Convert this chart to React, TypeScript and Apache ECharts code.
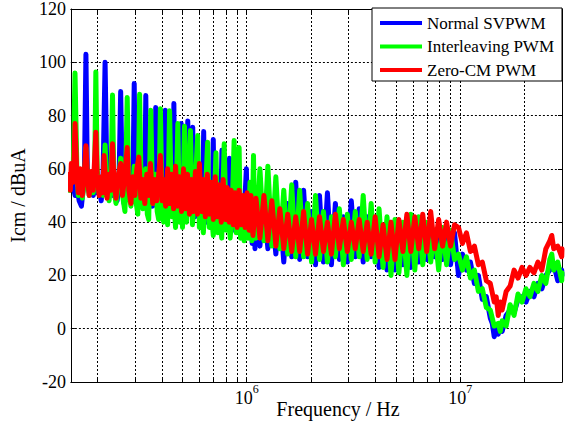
import React, { useEffect, useRef } from 'react';
import * as echarts from 'echarts';

const FONT = 'Liberation Serif, serif';

const seriesNames = ['Normal SVPWM', 'Interleaving PWM', 'Zero-CM PWM'];
const seriesColors = ['#0000ff', '#00ff00', '#ff0000'];
const xGridMHz = [0.2, 0.3, 0.4, 0.5, 0.6, 0.7, 0.8, 0.9, 1, 2, 3, 4, 5, 6, 7, 8, 9, 10, 20];
const xLabelMHz = [1, 10];
const yMin = -20;
const yMax = 120;
const yStep = 20;
const xTitle = 'Frequency / Hz';
const yTitle = 'Icm / dBuA';

// [frequency in MHz, level in dBuA]
const normalSVPWM: [number, number][] = [
  [0.1475, 55], [0.151, 58], [0.154, 53], [0.157, 50], [0.161, 52], [0.164, 48], [0.168, 46], [0.171, 52], [0.1735, 58],
  [0.1764, 103], [0.179, 60], [0.183, 52], [0.187, 57], [0.191, 50], [0.195, 55], [0.199, 51], [0.203, 54], [0.208, 48],
  [0.212, 56], [0.2169, 100], [0.221, 58], [0.226, 50], [0.231, 55], [0.236, 50], [0.241, 56], [0.247, 48], [0.252, 55],
  [0.2566, 89], [0.261, 55], [0.266, 47], [0.272, 53], [0.278, 49], [0.284, 55], [0.29, 48], [0.293, 56], [0.297, 92],
  [0.301, 53], [0.306, 47], [0.312, 52], [0.319, 46], [0.326, 51], [0.332, 49], [0.3365, 87.5], [0.341, 50], [0.347, 45],
  [0.355, 49], [0.362, 46], [0.37, 52], [0.3745, 83], [0.379, 50], [0.386, 44], [0.395, 48], [0.404, 45], [0.412, 50],
  [0.4155, 82], [0.42, 49], [0.426, 44], [0.435, 48], [0.445, 46], [0.452, 52], [0.4556, 84.5], [0.46, 50], [0.466, 44],
  [0.474, 47], [0.484, 43], [0.49, 48], [0.4932, 77], [0.497, 49], [0.505, 45], [0.514, 48], [0.522, 45], [0.5293, 78],
  [0.536, 46], [0.545, 44], [0.552, 50], [0.5584, 75.6], [0.564, 45], [0.572, 42], [0.581, 47], [0.589, 43], [0.6, 47],
  [0.61, 42], [0.62, 46], [0.6284, 74], [0.636, 44], [0.647, 40], [0.66, 45], [0.67, 41], [0.682, 46], [0.69, 50],
  [0.697, 71], [0.704, 46], [0.712, 40], [0.725, 44], [0.735, 39], [0.745, 45], [0.758, 50], [0.765, 67], [0.772, 44],
  [0.784, 39], [0.8, 43], [0.815, 38], [0.823, 48], [0.83, 64], [0.838, 44], [0.85, 38], [0.865, 42], [0.88, 37],
  [0.895, 45], [0.91, 38], [0.93, 43], [0.95, 37], [0.97, 44], [0.985, 52], [0.996, 60], [1.005, 45], [1.02, 36],
  [1.04, 51], [1.06, 32], [1.08, 48], [1.093, 30],
  [1.105, 46], [1.153, 31], [1.204, 48], [1.256, 30], [1.311, 44], [1.369, 28], [1.429, 45], [1.491, 25], [1.556, 47],
  [1.624, 27], [1.696, 55], [1.77, 26], [1.847, 52], [1.928, 27], [2.012, 44], [2.1, 24], [2.192, 50], [2.288, 25],
  [2.388, 51], [2.493, 24], [2.602, 47], [2.716, 26], [2.836, 42], [2.96, 25], [3.09, 48], [3.225, 27], [3.365, 45],
  [3.513, 25], [3.667, 42], [3.827, 27], [3.995, 40], [4.169, 23], [4.351, 38], [4.542, 22], [4.741, 40], [4.949, 22],
  [5.164, 38], [5.391, 24], [5.627, 39], [5.873, 23], [6.13, 38], [6.397, 25], [6.678, 38], [6.97, 26], [7.275, 38],
  [7.594, 27], [7.926, 37], [8.274, 26], [8.636, 36], [9.014, 24], [9.408, 36], [9.82, 20],
  [10.25, 28], [10.7, 22], [11.17, 25], [11.66, 17], [12.17, 20], [12.7, 11], [13.26, 12], [13.84, 4], [14.14, 2],
  [14.44, -3], [14.75, 0], [15.08, -2], [15.41, 1], [15.73, -1], [16.42, 5], [17.14, 7], [17.89, 6], [18.67, 11],
  [19.49, 12], [20.34, 10], [21.23, 14], [22.16, 12], [23.13, 17], [24.14, 15], [25.2, 20], [26.3, 22], [27.45, 24],
  [28.65, 18], [29.91, 22], [30, 20],
];

const interleavingPWM: [number, number][] = [
  [0.1475, 52], [0.1507, 58], [0.154, 62], [0.1568, 96], [0.16, 60], [0.1625, 50], [0.166, 53], [0.1696, 49],
  [0.1733, 55], [0.1764, 68], [0.18, 54], [0.1828, 50], [0.1867, 56], [0.1908, 51], [0.1938, 58], [0.1963, 96.4],
  [0.1991, 60], [0.2034, 51], [0.2078, 55], [0.2123, 50], [0.2169, 69], [0.2216, 52], [0.2264, 48], [0.2313, 55],
  [0.235, 87.7], [0.2388, 52], [0.244, 47], [0.2493, 53], [0.2566, 64], [0.263, 49], [0.2687, 44], [0.2754, 86.8],
  [0.2804, 51], [0.2865, 46], [0.2927, 52], [0.297, 61], [0.3023, 48], [0.3088, 43], [0.3148, 88], [0.3206, 50],
  [0.3258, 45], [0.3329, 50], [0.3365, 60], [0.342, 43], [0.3474, 41], [0.355, 82], [0.3626, 47], [0.3705, 52],
  [0.3745, 58], [0.3806, 44], [0.3867, 41], [0.3939, 82.6], [0.4015, 44], [0.408, 40], [0.4169, 52], [0.4259, 39],
  [0.435, 81.8], [0.4446, 42], [0.4541, 50], [0.4639, 38], [0.4755, 77], [0.4843, 40], [0.4932, 60], [0.5001, 38],
  [0.5109, 76], [0.522, 40], [0.5333, 55], [0.5448, 74.4], [0.5566, 39], [0.5687, 48], [0.589, 72.5], [0.6, 38],
  [0.613, 45], [0.6262, 36], [0.6397, 50], [0.6559, 70], [0.6678, 38], [0.6823, 44], [0.697, 35], [0.7174, 66],
  [0.7313, 36], [0.7474, 45], [0.7634, 34], [0.7841, 69.4], [0.8011, 37], [0.8184, 46], [0.8361, 34], [0.8542, 44],
  [0.8727, 70.6], [0.8916, 36], [0.9109, 45], [0.921, 68], [0.935, 34], [0.9508, 40], [0.9714, 33], [0.9925, 48],
  [1.014, 34], [1.036, 55], [1.058, 33], [1.0755, 65], [1.09, 36],
  [1.105, 34], [1.153, 60], [1.204, 33], [1.256, 61], [1.311, 31], [1.369, 57], [1.429, 30], [1.491, 52], [1.556, 28],
  [1.624, 54], [1.696, 27], [1.77, 52], [1.847, 27], [1.928, 47], [2.012, 25], [2.1, 50], [2.192, 26], [2.288, 44],
  [2.388, 25], [2.493, 42], [2.602, 27], [2.716, 45], [2.836, 24], [2.96, 43], [3.09, 26], [3.225, 44], [3.365, 27],
  [3.513, 50], [3.667, 26], [3.827, 47], [3.995, 25], [4.169, 45], [4.351, 23], [4.542, 42], [4.741, 20], [4.949, 41],
  [5.164, 21], [5.391, 40], [5.627, 20], [5.873, 43], [6.13, 22], [6.397, 42], [6.678, 24], [6.97, 40], [7.275, 25],
  [7.594, 37], [7.926, 22], [8.274, 38], [8.636, 24], [9.014, 37], [9.408, 26],
  [9.82, 28], [10.25, 22], [10.7, 27], [11.17, 19], [11.66, 22], [12.17, 14], [12.7, 15], [13.26, 8], [13.84, 7],
  [14.44, 1], [15.08, 2], [15.41, -1], [15.73, 3], [16.42, 1], [17.14, 9], [17.89, 5], [18.67, 13], [19.49, 10],
  [20.34, 15], [21.23, 12], [22.16, 17], [23.13, 14], [24.14, 20], [25.2, 17], [26.3, 26], [26.87, 28], [27.45, 22],
  [28.65, 25], [29.91, 18], [30, 21],
];

const zeroCMPWM: [number, number][] = [
  [0.1475, 58], [0.1491, 52], [0.1507, 62], [0.154, 55], [0.1568, 77], [0.16, 58], [0.1625, 51], [0.166, 60],
  [0.1696, 50], [0.1733, 58], [0.1764, 68.7], [0.18, 55], [0.1828, 50], [0.1867, 59], [0.1908, 52], [0.1963, 73.7],
  [0.1991, 58], [0.2034, 50], [0.2078, 57], [0.2112, 51], [0.2146, 65], [0.2181, 55], [0.2216, 49], [0.2264, 58],
  [0.2313, 52], [0.235, 69.4], [0.2388, 55], [0.244, 49], [0.2493, 57], [0.2566, 62], [0.2616, 50], [0.2673, 56],
  [0.2754, 68], [0.2804, 52], [0.2865, 47], [0.2927, 57], [0.299, 50], [0.3055, 60], [0.3121, 64.4], [0.3189, 49],
  [0.3258, 56], [0.3329, 47], [0.3401, 58], [0.3474, 50], [0.3538, 62], [0.3626, 47], [0.3705, 56], [0.3785, 48],
  [0.3867, 58], [0.3939, 65], [0.4015, 48], [0.408, 56], [0.4169, 46], [0.4259, 60], [0.435, 47], [0.4446, 58],
  [0.4541, 45], [0.4639, 61], [0.4739, 46], [0.4843, 57], [0.4949, 44], [0.5055, 60], [0.5164, 45], [0.5276, 58],
  [0.539, 43], [0.5507, 56], [0.5626, 44], [0.5748, 59], [0.5873, 43], [0.6, 62], [0.613, 44], [0.6262, 56],
  [0.6397, 42], [0.6536, 58], [0.6678, 43], [0.6823, 55], [0.697, 41], [0.7121, 57], [0.7274, 42], [0.7432, 54],
  [0.7593, 40], [0.7758, 56], [0.7928, 41], [0.8098, 53], [0.8274, 40], [0.8451, 52], [0.8637, 39], [0.8821, 51],
  [0.9013, 38], [0.9207, 52], [0.9408, 39], [0.961, 50], [0.982, 38], [1.0032, 51], [1.025, 37], [1.047, 50],
  [1.0694, 35], [1.105, 49], [1.153, 34], [1.204, 50], [1.256, 33], [1.311, 48], [1.369, 31], [1.429, 45], [1.491, 30],
  [1.556, 43], [1.624, 29], [1.696, 42], [1.77, 29], [1.847, 44], [1.928, 28], [2.012, 41], [2.1, 28], [2.192, 42],
  [2.288, 29], [2.388, 40], [2.493, 28], [2.602, 43], [2.716, 30], [2.836, 41], [2.96, 29], [3.09, 40], [3.225, 30],
  [3.365, 41], [3.513, 29], [3.667, 40], [3.827, 28], [3.995, 42], [4.169, 27], [4.351, 39], [4.542, 26], [4.741, 40],
  [4.949, 26], [5.164, 41], [5.391, 29], [5.627, 43], [5.873, 29], [6.13, 42], [6.397, 30], [6.678, 43], [6.97, 29],
  [7.275, 44], [7.594, 30], [7.926, 41], [8.274, 31], [8.636, 40], [9.014, 31], [9.408, 39],
  [9.82, 38], [10.25, 32], [10.7, 36], [11.17, 29], [11.66, 31], [12.17, 24], [12.7, 25], [13.26, 18], [13.84, 17],
  [14.44, 10], [14.75, 12], [15.08, 5], [15.41, 10], [15.73, 7], [16.42, 14], [17.14, 16], [17.89, 22], [18.67, 19],
  [19.49, 23], [20.34, 20], [21.23, 23], [22.16, 21], [23.13, 25], [24.14, 22], [25.2, 30], [26.3, 33], [26.87, 35],
  [27.45, 30], [28.65, 31], [29.91, 27], [30, 30],
];

const seriesData = [normalSVPWM, interleavingPWM, zeroCMPWM];

export default function App() {
  const ref = useRef<HTMLDivElement>(null);
  useEffect(() => {
    if (!ref.current) return;
    const chart = echarts.init(ref.current, null, { renderer: 'svg' });
    const toHz = (pts: [number, number][]) => pts.map(([f, v]) => [f * 1e6, v]);
    const gridHz = xGridMHz.map((f) => f * 1e6);
    const labelHz = xLabelMHz.map((f) => f * 1e6);
    const dotted = { color: '#000', width: 1, type: [2, 2] as number[] };
    const xBase = {
      type: 'log' as const,
      logBase: 10,
      min: 1.5e5,
      max: 3e7,
      axisLine: { show: true, onZero: false, lineStyle: { color: '#000', width: 1 } },
      axisTick: { show: true, inside: true, length: 4, customValues: gridHz, lineStyle: { color: '#000' } },
      minorTick: { show: false },
    };
    const option: any = {
      animation: false,
      backgroundColor: '#fff',
      textStyle: { fontFamily: FONT },
      grid: { left: 64, right: 9, top: 8, bottom: 42, containLabel: false },
      legend: {
        data: seriesNames,
        orient: 'vertical',
        right: 9,
        top: 8,
        backgroundColor: '#fff',
        borderColor: '#000',
        borderWidth: 1,
        padding: [6, 8, 2, 8],
        itemWidth: 42,
        itemHeight: 4,
        itemGap: 5.5,
        icon: 'rect',
        selectedMode: false,
        textStyle: { fontFamily: FONT, fontSize: 17, color: '#000', lineHeight: 18 },
        z: 10,
      },
      xAxis: [
        {
          ...xBase,
          position: 'bottom',
          axisLabel: {
            show: true,
            customValues: labelHz,
            margin: 1,
            fontFamily: FONT,
            formatter: (v: number) => `{b|10}{s|${Math.round(Math.log10(v))}}`,
            rich: {
              b: { fontFamily: FONT, fontSize: 18, color: '#000', verticalAlign: 'bottom', lineHeight: 24 },
              s: { fontFamily: FONT, fontSize: 12, color: '#000', verticalAlign: 'top', lineHeight: 12 },
            },
          },
          splitLine: { show: true, lineStyle: dotted },
        },
        {
          ...xBase,
          position: 'top',
          axisLabel: { show: false },
          splitLine: { show: false },
        },
      ],
      yAxis: [
        {
          type: 'value',
          min: yMin,
          max: yMax,
          interval: yStep,
          position: 'left',
          axisLine: { show: true, onZero: false, lineStyle: { color: '#000', width: 1 } },
          axisTick: { show: true, inside: true, length: 4, lineStyle: { color: '#000' } },
          axisLabel: { fontFamily: FONT, fontSize: 18, color: '#000', margin: 5 },
          splitLine: { show: true, lineStyle: dotted },
          name: yTitle,
          nameLocation: 'middle',
          nameGap: 40,
          nameRotate: 90,
          nameTextStyle: { fontFamily: FONT, fontSize: 20, color: '#000' },
        },
        {
          type: 'value',
          min: yMin,
          max: yMax,
          interval: yStep,
          position: 'right',
          axisLine: { show: true, onZero: false, lineStyle: { color: '#000', width: 1 } },
          axisTick: { show: true, inside: true, length: 4, lineStyle: { color: '#000' } },
          axisLabel: { show: false },
          splitLine: { show: false },
        },
      ],
      graphic: [
        {
          type: 'text',
          x: 338,
          y: 409,
          style: {
            text: xTitle,
            font: `20px ${FONT}`,
            fill: '#000',
            align: 'center',
            verticalAlign: 'middle',
          },
        },
      ],
      series: seriesData.map((pts, i) => ({
        name: seriesNames[i],
        type: 'line',
        xAxisIndex: 0,
        yAxisIndex: 0,
        data: toHz(pts),
        showSymbol: false,
        symbol: 'none',
        silent: true,
        clip: true,
        color: seriesColors[i],
        itemStyle: { color: seriesColors[i] },
        lineStyle: { color: seriesColors[i], width: 5, join: 'round', cap: 'round' },
        emphasis: { disabled: true },
        z: 2 + i,
      })),
    };
    chart.setOption(option);
    return () => chart.dispose();
  }, []);
  return (
    <div
      ref={ref}
      style={{ position: 'fixed', left: 0, top: 0, width: 571, height: 424, background: '#fff' }}
    />
  );
}
